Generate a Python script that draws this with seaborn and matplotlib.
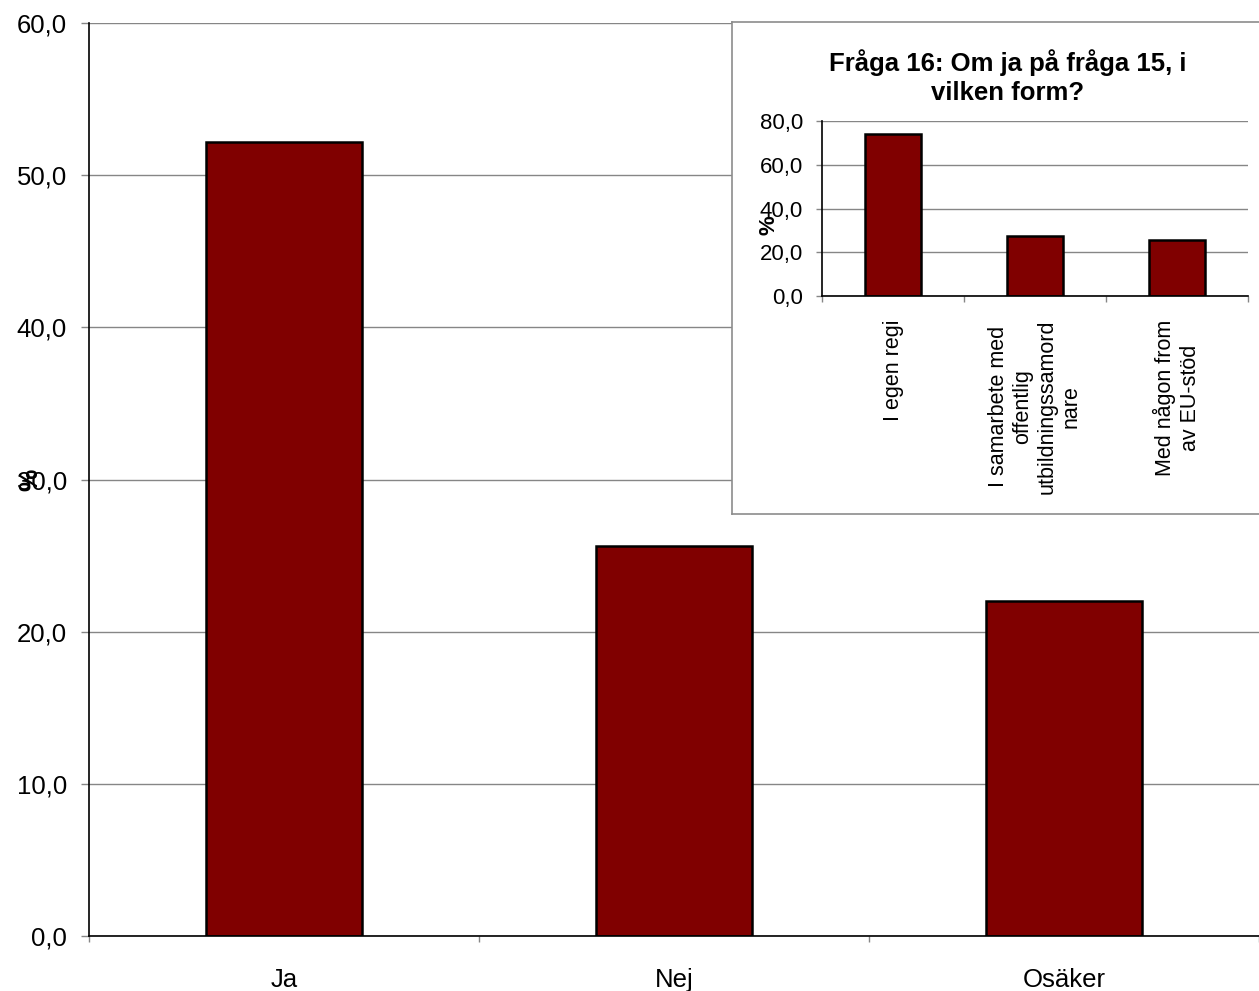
import numpy as np
import pandas as pd
import seaborn as sns
import matplotlib.pyplot as plt
from matplotlib.ticker import FuncFormatter, FixedLocator

# Data
main_cats = ['Ja', 'Nej', 'Osäker']
main_vals = [52.2, 25.6, 22.0]

inset_title = 'Fråga 16: Om ja på fråga 15, i\nvilken form?'
inset_cats = ['I egen regi',
              'I samarbete med\noffentlig\nutbildningssamord\nnare',
              'Med någon from\nav EU-stöd']
inset_vals = [74.1, 27.5, 25.7]

bar_color = '#800000'
grid_color = '#868686'

sns.set_theme(style='white')
plt.rcParams['font.family'] = ['Liberation Sans', 'DejaVu Sans']
plt.rcParams['text.color'] = 'black'
plt.rcParams['axes.labelcolor'] = 'black'

comma = FuncFormatter(lambda v, p: f'{v:.1f}'.replace('.', ','))


def style_axes(ax, cats, tick_size, xpad, ylen, xlen, ypad):
    ax.set_axisbelow(True)
    ax.yaxis.grid(True, color=grid_color, linewidth=1)
    for s in ['top', 'right']:
        ax.spines[s].set_visible(False)
    for s in ['left', 'bottom']:
        ax.spines[s].set_color('black')
        ax.spines[s].set_linewidth(1.2)
    ax.yaxis.set_major_formatter(comma)
    ax.tick_params(axis='y', which='major', left=True, length=ylen, width=1,
                   color=grid_color, labelsize=tick_size, pad=ypad, labelcolor='black')
    # category boundaries get tick marks, labels sit on minor ticks
    n = len(cats)
    ax.xaxis.set_major_locator(FixedLocator(np.arange(n + 1) - 0.5))
    ax.xaxis.set_minor_locator(FixedLocator(np.arange(n)))
    ax.set_xticklabels([''] * (n + 1))
    ax.tick_params(axis='x', which='major', bottom=True, length=xlen, width=1,
                   color=grid_color)
    ax.tick_params(axis='x', which='minor', bottom=True, length=0, pad=xpad,
                   labelsize=tick_size, labelcolor='black')
    ax.set_xlim(-0.5, n - 0.5)
    ax.set_xlabel('')


fig = plt.figure(figsize=(12.59, 9.91), dpi=100)

# Main chart
ax = fig.add_axes([89 / 1259, 55 / 991, 1170 / 1259, 913 / 991])
main_df = pd.DataFrame({'cat': main_cats, 'val': main_vals})
sns.barplot(data=main_df, x='cat', y='val', ax=ax, color=bar_color, saturation=1,
            width=0.4, edgecolor='black', linewidth=1.8)
ax.set_ylim(0, 60)
ax.set_yticks(np.arange(0, 61, 10))
style_axes(ax, main_cats, 18.5, 23, 6, 4, 10)
ax.xaxis.set_minor_formatter(FuncFormatter(lambda v, p: main_cats[int(round(v))]))
ax.set_ylabel('%', fontsize=18, fontweight='bold')
ax.yaxis.set_label_coords(-0.04, 0.5)

# Inset frame
bg = fig.add_axes([732 / 1259, 477 / 991, 0.43, 492 / 991])
bg.set_xticks([])
bg.set_yticks([])
bg.set_facecolor('white')
for s in bg.spines.values():
    s.set_color('#8c8c8c')
    s.set_linewidth(1.2)

# Inset chart
ax2 = fig.add_axes([822 / 1259, 695 / 991, 426 / 1259, 175 / 991])
inset_df = pd.DataFrame({'cat': inset_cats, 'val': inset_vals})
sns.barplot(data=inset_df, x='cat', y='val', ax=ax2, color=bar_color, saturation=1,
            width=0.4, edgecolor='black', linewidth=1.8)
ax2.set_ylim(0, 80)
ax2.set_yticks(np.arange(0, 81, 20))
style_axes(ax2, inset_cats, 16, 17, 4.5, 4, 9)
ax2.xaxis.set_minor_formatter(FuncFormatter(lambda v, p: inset_cats[int(round(v))]))
for t in ax2.xaxis.get_minorticklabels():
    t.set_rotation(90)
    t.set_multialignment('center')
    t.set_fontsize(15.5)
ax2.set_ylabel('%', fontsize=16, fontweight='bold')
ax2.yaxis.set_label_coords(-0.1, 0.405)

fig.text(1008 / 1259, 1 - 77 / 991, inset_title, ha='center', va='center',
         fontsize=18.5, fontweight='bold', linespacing=1.3)

fig.savefig('out.png', dpi=100)
